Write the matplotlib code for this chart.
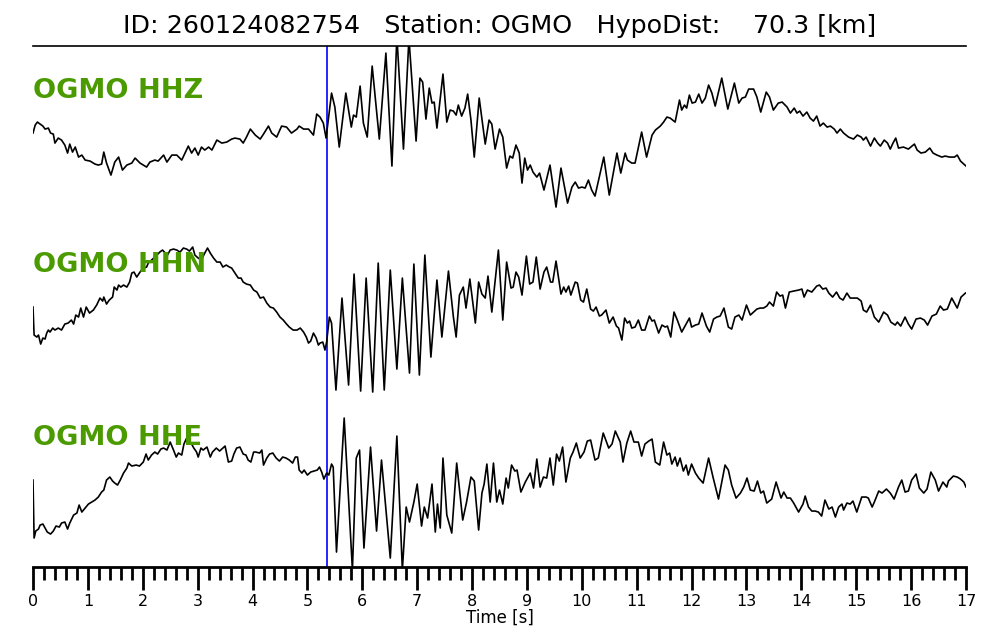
import numpy as np
import matplotlib.pyplot as plt
from matplotlib.ticker import MultipleLocator

EVENT_ID = "260124082754"
STATION = "OGMO"
HYPO_DIST = 70.3
P_PICK = 5.36  # s

# --- HHZ (time [s], amplitude [arb.]) ---
hhz_t = [0.0, 0.04, 0.08, 0.13, 0.18, 0.22, 0.28, 0.32, 0.37, 0.40, 0.46, 0.52, 0.58, 0.63, 0.67,
         0.72, 0.77, 0.83, 0.89, 0.95, 1.04, 1.13, 1.19, 1.25, 1.29, 1.34, 1.42, 1.49, 1.56, 1.63,
         1.71, 1.80, 1.86, 1.95, 2.07, 2.13, 2.22, 2.28, 2.38, 2.44, 2.53, 2.62, 2.71, 2.77, 2.83,
         2.89, 2.95, 3.01, 3.07, 3.13, 3.20, 3.26, 3.35, 3.44, 3.53, 3.62, 3.68, 3.77, 3.83, 3.89,
         3.96, 4.05, 4.14, 4.20, 4.29, 4.35, 4.44, 4.53, 4.62, 4.71, 4.81, 4.85, 4.93, 5.02, 5.11,
         5.17, 5.23, 5.29, 5.34, 5.44, 5.50, 5.58, 5.70, 5.80, 5.84, 5.89, 5.96, 6.02, 6.09, 6.18,
         6.31, 6.43, 6.54, 6.63, 6.75, 6.85, 6.98, 7.05, 7.10, 7.16, 7.22, 7.27, 7.31, 7.36, 7.47,
         7.54, 7.60, 7.66, 7.71, 7.75, 7.81, 7.87, 7.92, 7.98, 8.04, 8.13, 8.24, 8.31, 8.36, 8.42,
         8.50, 8.56, 8.63, 8.69, 8.74, 8.80, 8.86, 8.91, 8.96, 9.01, 9.06, 9.11, 9.18, 9.23, 9.31,
         9.42, 9.53, 9.62, 9.74, 9.82, 9.88, 9.94, 10.00, 10.06, 10.12, 10.18, 10.24, 10.40, 10.50,
         10.64, 10.71, 10.79, 10.83, 10.91, 10.97, 11.09, 11.18, 11.28, 11.34, 11.43, 11.49, 11.55,
         11.61, 11.70, 11.78, 11.82, 11.87, 11.91, 11.96, 12.01, 12.07, 12.13, 12.19, 12.25, 12.31,
         12.37, 12.43, 12.55, 12.66, 12.78, 12.86, 12.92, 12.98, 13.04, 13.13, 13.19, 13.26, 13.36,
         13.42, 13.49, 13.58, 13.65, 13.74, 13.80, 13.87, 13.92, 13.97, 14.03, 14.10, 14.16, 14.22,
         14.28, 14.34, 14.40, 14.47, 14.53, 14.60, 14.65, 14.71, 14.77, 14.86, 14.95, 15.02, 15.09,
         15.13, 15.18, 15.26, 15.33, 15.39, 15.44, 15.51, 15.57, 15.62, 15.67, 15.72, 15.77, 15.86,
         15.95, 16.06, 16.11, 16.18, 16.26, 16.34, 16.40, 16.47, 16.56, 16.62, 16.70, 16.79, 16.84,
         16.90, 17.0]
hhz_a = [-5, 3, 6, 4, 2, -1, 0, -5, -6, -15, -10, -12, -17, -25, -16,
         -24, -19, -29, -27, -32, -33, -36, -37, -36, -24, -35, -47, -34, -29, -42,
         -37, -35, -30, -35, -39, -34, -32, -33, -27, -34, -27, -27, -32, -25, -18,
         -25, -20, -27, -19, -22, -19, -22, -12, -15, -14, -11, -10, -11, -15, -9,
         -1, -7, -11, -6, 2, -5, -9, 2, 1, -5, -1, 2, -1, -1, -7,
         14, 11, 5, -10, 35, 21, -19, 35, 1, 13, 11, 42, 5, -9, 62,
         -11, 75, -38, 92, -21, 90, -13, 50, 46, 9, 40, 25, 26, 0, 54,
         6, 18, 17, 13, 23, 12, 20, 34, 8, -29, 30, -16, 8, 4, -21,
         -1, -9, -40, -28, -30, -17, -25, -55, -30, -42, -37, -44, -49, -45, -62,
         -37, -79, -40, -75, -59, -54, -60, -59, -60, -52, -62, -68, -29, -67,
         -25, -45, -25, -32, -35, -35, -4, -29, -7, -2, 2, 6, 11,
         10, 6, 28, 18, 23, 20, 33, 25, 26, 34, 25, 30, 43,
         35, 22, 50, 19, 45, 25, 30, 31, 39, 39, 31, 16, 36,
         31, 18, 25, 26, 21, 15, 20, 15, 17, 12, 16, 10, 7,
         12, 2, 5, 1, 2, -1, -5, -1, -5, -9, -11, -7, -9,
         -12, -9, -18, -10, -15, -18, -12, -15, -21, -15, -10, -20, -19,
         -21, -16, -22, -25, -24, -20, -25, -27, -29, -28, -29, -29, -27,
         -33, -38]

# --- HHN ---
hhn_t = [0.0, 0.02, 0.07, 0.10, 0.14, 0.18, 0.22, 0.25, 0.28, 0.31, 0.36, 0.40, 0.46, 0.52, 0.58,
         0.64, 0.70, 0.74, 0.78, 0.83, 0.87, 0.92, 0.97, 1.03, 1.10, 1.16, 1.22, 1.27, 1.29, 1.34,
         1.39, 1.45, 1.48, 1.53, 1.56, 1.60, 1.65, 1.71, 1.76, 1.80, 1.84, 1.89, 1.95, 2.01, 2.07,
         2.10, 2.16, 2.24, 2.31, 2.36, 2.41, 2.45, 2.50, 2.56, 2.62, 2.68, 2.74, 2.80, 2.85, 2.91,
         2.95, 3.01, 3.07, 3.12, 3.18, 3.23, 3.29, 3.35, 3.41, 3.46, 3.52, 3.58, 3.62, 3.68, 3.74,
         3.79, 3.83, 3.89, 3.96, 4.02, 4.08, 4.14, 4.20, 4.26, 4.32, 4.38, 4.44, 4.50, 4.56, 4.62,
         4.67, 4.74, 4.81, 4.87, 4.93, 4.98, 5.02, 5.06, 5.11, 5.16, 5.20, 5.23, 5.28, 5.32, 5.35,
         5.40, 5.44, 5.52, 5.63, 5.75, 5.85, 5.97, 6.07, 6.19, 6.29, 6.40, 6.51, 6.63, 6.73, 6.86,
         6.94, 7.04, 7.14, 7.25, 7.36, 7.45, 7.57, 7.66, 7.71, 7.77, 7.84, 7.89, 7.96, 8.06, 8.12,
         8.18, 8.24, 8.29, 8.36, 8.48, 8.56, 8.63, 8.71, 8.75, 8.80, 8.85, 8.91, 8.99, 9.05, 9.11,
         9.17, 9.24, 9.31, 9.36, 9.43, 9.47, 9.53, 9.62, 9.67, 9.71, 9.76, 9.80, 9.88, 9.92, 9.98,
         10.03, 10.09, 10.16, 10.21, 10.26, 10.32, 10.36, 10.44, 10.50, 10.57, 10.63, 10.67, 10.73,
         10.78, 10.83, 10.87, 10.91, 10.97, 11.03, 11.09, 11.15, 11.23, 11.28, 11.32, 11.40, 11.46,
         11.52, 11.56, 11.62, 11.68, 11.74, 11.82, 11.90, 11.96, 12.00, 12.07, 12.13, 12.19, 12.27,
         12.33, 12.40, 12.46, 12.52, 12.59, 12.67, 12.73, 12.79, 12.86, 12.92, 13.00, 13.07, 13.13,
         13.19, 13.25, 13.31, 13.37, 13.42, 13.49, 13.55, 13.61, 13.66, 13.71, 13.78, 13.86, 13.95,
         14.01, 14.05, 14.11, 14.19, 14.28, 14.33, 14.39, 14.45, 14.50, 14.57, 14.64, 14.70, 14.76,
         14.83, 14.89, 14.96, 15.02, 15.09, 15.13, 15.19, 15.26, 15.33, 15.41, 15.50, 15.57, 15.63,
         15.71, 15.75, 15.81, 15.89, 15.95, 16.01, 16.09, 16.17, 16.24, 16.30, 16.38, 16.46, 16.53,
         16.59, 16.66, 16.74, 16.84, 16.91, 16.99]
hhn_a = [8, -20, -22, -20, -29, -23, -24, -18, -15, -17, -13, -15, -13, -15, -9,
         -8, -5, -9, 0, -2, 7, -2, 8, 2, 5, 10, 17, 14, 18, 11,
         15, 18, 28, 25, 30, 28, 30, 28, 33, 42, 43, 38, 43, 47, 48,
         52, 55, 59, 63, 65, 62, 60, 65, 66, 65, 63, 67, 66, 64, 68,
         60, 57, 55, 61, 67, 62, 57, 53, 53, 48, 50, 48, 47, 42, 37,
         37, 33, 31, 30, 25, 23, 17, 18, 12, 8, 7, 3, -2, -5, -9,
         -12, -15, -15, -13, -17, -22, -28, -26, -18, -23, -30, -28, -27, -35, -27,
         -2, -8, -75, 17, -70, 41, -76, 37, -77, 52, -75, 45, -54, 37, -58,
         51, -60, 60, -42, 35, -22, 44, -2, -22, 20, 28, 7, 36, -8, 33,
         21, 17, 39, 3, 65, -5, 53, 27, 28, 43, 38, 20, 59, 31, 33,
         58, 26, 43, 48, 33, 33, 54, 21, 28, 23, 29, 20, 33, 32, 15,
         13, 26, 6, 4, 8, -1, 0, 5, -8, -2, -11, -13, -25,
         -3, -8, -6, -13, -12, -5, -15, -15, -1, -6, -5, -18, -10,
         -12, -11, -22, 3, -5, -17, -9, -3, -12, -10, -9, 2, -11,
         -17, -4, -2, -1, 7, -12, -14, -2, 0, -5, 10, 0, 3,
         6, 7, 7, 9, 13, 9, 23, 19, 20, 7, 23, 24, 25,
         26, 18, 25, 23, 29, 30, 26, 27, 22, 18, 23, 17, 15,
         22, 17, 17, 17, 14, 5, 3, 10, -2, -7, 3, 0, -7,
         -10, -7, -11, -2, -9, -14, -4, -3, -5, -10, -1, 1, 9,
         5, 6, 17, 7, 18, 22]

# --- HHE ---
hhe_t = [0.0, 0.02, 0.05, 0.10, 0.13, 0.18, 0.22, 0.26, 0.32, 0.37, 0.42, 0.48, 0.52, 0.58, 0.63,
         0.67, 0.74, 0.80, 0.84, 0.89, 0.95, 1.01, 1.07, 1.13, 1.19, 1.25, 1.29, 1.34, 1.40, 1.45,
         1.49, 1.54, 1.59, 1.65, 1.71, 1.74, 1.80, 1.88, 1.94, 2.01, 2.06, 2.10, 2.16, 2.22, 2.27,
         2.33, 2.38, 2.44, 2.50, 2.56, 2.61, 2.65, 2.71, 2.75, 2.80, 2.85, 2.89, 2.93, 2.98, 3.01,
         3.06, 3.10, 3.17, 3.23, 3.27, 3.34, 3.40, 3.46, 3.50, 3.56, 3.62, 3.66, 3.71, 3.77, 3.83,
         3.88, 3.92, 3.97, 4.02, 4.06, 4.13, 4.17, 4.20, 4.26, 4.31, 4.37, 4.43, 4.49, 4.55, 4.61,
         4.67, 4.73, 4.78, 4.82, 4.85, 4.90, 4.94, 5.00, 5.06, 5.12, 5.18, 5.22, 5.26, 5.30, 5.35,
         5.39, 5.44, 5.47, 5.53, 5.67, 5.82, 5.89, 5.95, 6.03, 6.15, 6.26, 6.35, 6.51, 6.63, 6.73,
         6.80, 6.86, 6.94, 7.00, 7.08, 7.13, 7.19, 7.27, 7.33, 7.37, 7.42, 7.47, 7.54, 7.63, 7.72,
         7.83, 7.90, 7.98, 8.04, 8.12, 8.18, 8.22, 8.27, 8.33, 8.39, 8.45, 8.50, 8.56, 8.62, 8.66,
         8.72, 8.78, 8.82, 8.89, 8.97, 9.06, 9.12, 9.18, 9.24, 9.30, 9.36, 9.42, 9.48, 9.54, 9.59,
         9.65, 9.71, 9.79, 9.84, 9.90, 9.97, 10.04, 10.10, 10.16, 10.24, 10.30, 10.39, 10.49, 10.55,
         10.61, 10.70, 10.75, 10.82, 10.89, 10.95, 11.03, 11.09, 11.15, 11.22, 11.28, 11.34, 11.42,
         11.49, 11.55, 11.60, 11.64, 11.70, 11.74, 11.79, 11.85, 11.90, 11.94, 12.00, 12.07, 12.13,
         12.21, 12.31, 12.39, 12.49, 12.61, 12.67, 12.73, 12.81, 12.89, 12.95, 13.01, 13.07, 13.14,
         13.20, 13.26, 13.31, 13.37, 13.46, 13.54, 13.63, 13.68, 13.74, 13.80, 13.86, 13.95, 14.03,
         14.07, 14.13, 14.19, 14.25, 14.31, 14.37, 14.43, 14.50, 14.56, 14.62, 14.68, 14.74, 14.77,
         14.83, 14.89, 14.94, 15.01, 15.10, 15.18, 15.22, 15.29, 15.33, 15.41, 15.47, 15.55, 15.62,
         15.69, 15.77, 15.83, 15.89, 15.95, 16.01, 16.09, 16.15, 16.23, 16.29, 16.36, 16.44, 16.50,
         16.58, 16.65, 16.68, 16.77, 16.84, 16.90, 16.96, 17.00]
hhe_a = [10, -48, -41, -39, -35, -34, -38, -42, -44, -41, -36, -37, -33, -32, -39,
         -33, -25, -23, -15, -22, -18, -14, -12, -10, -7, -2, 0, 10, 13, 9,
         7, 5, 10, 17, 22, 27, 24, 25, 24, 28, 36, 30, 35, 38, 36,
         41, 42, 40, 48, 40, 33, 37, 35, 46, 52, 49, 46, 42, 38, 33,
         42, 40, 43, 33, 38, 42, 39, 42, 44, 28, 29, 36, 42, 43, 36,
         35, 30, 28, 38, 38, 37, 40, 25, 32, 36, 37, 32, 29, 33, 32,
         30, 27, 33, 33, 20, 17, 20, 15, 18, 19, 20, 23, 18, 11, 17,
         15, 26, 23, -62, 72, -80, 32, 40, -58, 43, -41, 30, -68, 54, -80,
         -17, -32, -12, 6, -36, -17, -28, 6, -42, -14, -38, 32, -25, -43, 27,
         -30, -12, 13, 9, -40, -3, 6, 26, -12, 27, -12, 0, -14, 12, 2,
         25, 19, 20, -2, 8, 17, 2, 31, 3, 13, 12, 32, 5, 36, 29,
         43, 8, 32, 38, 47, 32, 38, 49, 50, 30, 32, 57, 42, 46,
         59, 48, 28, 47, 59, 48, 48, 34, 46, 49, 51, 28, 25,
         48, 35, 37, 26, 33, 24, 32, 19, 25, 15, 26, 17, 12,
         7, 32, 13, -9, 25, 20, 5, -8, -3, 3, 12, 0, -1,
         9, -3, -1, -13, -9, 8, -8, -2, -8, -8, -13, -22, -14,
         -6, -17, -21, -21, -22, -26, -10, -19, -17, -27, -17, -14, -20,
         -13, -14, -11, -22, -7, -7, -8, -17, -12, -1, -3, 1, -3,
         -9, 3, 10, -2, -1, 10, 16, 2, -3, 1, 18, 10, -1,
         8, 3, 9, 14, 13, 11, 8, 3]

traces = [("HHZ", hhz_t, hhz_a), ("HHN", hhn_t, hhn_a), ("HHE", hhe_t, hhe_a)]
offsets = [439, 252, 77]
label_y = [476, 302, 129]

fig = plt.figure(figsize=(10, 6.4), dpi=100)
ax = fig.add_axes([0.033, 0.114, 0.933, 0.814])

for (comp, t, a), off, ly in zip(traces, offsets, label_y):
    ax.plot(t, np.array(a) + off, color="black", lw=1.2, zorder=2)
    ax.text(0.0, ly, f"{STATION} {comp}", color="#4a9a00", fontsize=19.5,
            fontweight="bold", va="center", ha="left", zorder=3)

ax.axvline(P_PICK, color="blue", lw=1.2, zorder=1)

ax.set_xlim(0, 17)
ax.set_ylim(0, 521)
ax.xaxis.set_major_locator(MultipleLocator(1))
ax.xaxis.set_minor_locator(MultipleLocator(0.2))
ax.tick_params(axis="x", which="major", length=16.5, width=2, labelsize=11.5, pad=3)
ax.tick_params(axis="x", which="minor", length=9, width=2)
ax.set_yticks([])
for s in ("left", "right"):
    ax.spines[s].set_visible(False)
ax.spines["bottom"].set_linewidth(2)
ax.spines["top"].set_linewidth(1.2)
ax.set_xlabel("Time [s]", fontsize=12, labelpad=0)

fig.text(0.5, 0.96, f"ID: {EVENT_ID}   Station: {STATION}   HypoDist:    {HYPO_DIST} [km]",
         ha="center", va="center", fontsize=18.3)

fig.savefig("out.png", dpi=100)
